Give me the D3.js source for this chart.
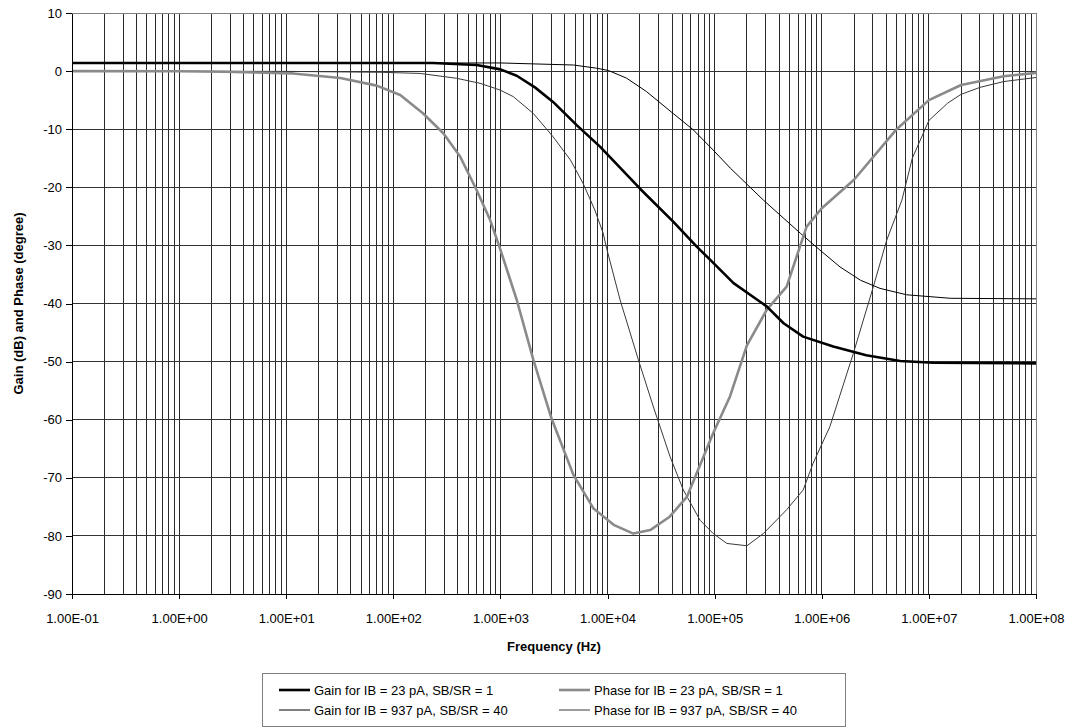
<!DOCTYPE html>
<html>
<head>
<meta charset="utf-8">
<script src="https://cdn.jsdelivr.net/npm/d3@7/dist/d3.min.js"></script>
<style>
  html, body { margin: 0; padding: 0; background: #fff; }
  svg { display: block; font-family: "Liberation Sans", Arial, sans-serif; }
</style>
</head>
<body>
<svg id="chart" width="1079" height="728"></svg>
<script>
// Gain for IB = 23 pA, SB/SR = 1
const gain23Freq = [0.1, 1, 10, 100, 235, 600, 1000, 1420, 2100, 3100, 5150, 8500, 2.0e4, 4.1e4, 6.8e4, 9.1e4, 1.5e5, 3.06e5, 4.4e5, 6.7e5, 1.28e6, 2.6e6, 5.4e6, 1.1e7, 1e8];
const gain23 = [1.4, 1.4, 1.4, 1.4, 1.4, 1.05, 0.3, -0.8, -2.8, -5.3, -9.3, -13.0, -20.2, -25.9, -30.2, -32.5, -36.5, -40.5, -43.4, -45.7, -47.4, -48.9, -49.9, -50.2, -50.3];

// Gain for IB = 937 pA, SB/SR = 40
const gain937Freq = [0.1, 1000, 4800, 7900, 1.02e4, 1.5e4, 2.3e4, 4.1e4, 6.3e4, 9.7e4, 1.4e5, 2.85e5, 6.3e5, 9.6e5, 1.48e6, 2.3e6, 3.5e6, 6.2e6, 1.58e7, 1e8];
const gain937 = [1.4, 1.4, 1.05, 0.5, 0.1, -1.2, -3.5, -7.3, -10.1, -13.6, -16.7, -22.2, -27.9, -30.8, -33.7, -36.0, -37.4, -38.5, -39.1, -39.2];

// Phase for IB = 23 pA, SB/SR = 1
const phase23Freq = [0.1, 1, 2.6, 11.6, 32, 70, 116, 190, 293, 420, 600, 800, 990, 1420, 2030, 3000, 4800, 7400, 1.14e4, 1.74e4, 2.5e4, 3.8e4, 5.5e4, 9.7e4, 1.39e5, 2.0e5, 3.06e5, 4.7e5, 7.2e5, 1.0e6, 2e6, 5e6, 1e7, 2e7, 5e7, 1e8];
const phase23 = [0, -0.03, -0.1, -0.4, -1.2, -2.5, -4.1, -7.3, -10.7, -14.7, -20.5, -25.6, -30.5, -39.4, -49.7, -59.8, -69.5, -75.3, -78.1, -79.6, -79.0, -76.7, -73.3, -62.3, -56.0, -47.2, -41.1, -37.1, -26.8, -23.6, -18.7, -10.0, -5.0, -2.4, -0.9, -0.3];

// Phase for IB = 937 pA, SB/SR = 40
const phase937Freq = [0.1, 10, 75, 178, 390, 645, 990, 1320, 2030, 3100, 4500, 5900, 7600, 9100, 9800, 1.31e4, 1.94e4, 2.68e4, 3.84e4, 5.1e4, 7.3e4, 9.7e4, 1.3e5, 2.0e5, 2.85e5, 4.7e5, 6.7e5, 8.3e5, 1.19e6, 1.97e6, 3.03e6, 4.04e6, 5.6e6, 7e6, 1e7, 1.5e7, 2e7, 3e7, 5e7, 1e8];
const phase937 = [0, -0.05, -0.2, -0.4, -1.24, -2.1, -3.25, -4.4, -7.3, -11.3, -15.3, -19.3, -23.9, -27.9, -30.5, -39.4, -49.7, -57.8, -66.4, -72.1, -77.3, -79.6, -81.3, -81.7, -79.6, -75.5, -72.1, -67.5, -61.2, -48.6, -37.1, -29.1, -22.2, -15.0, -8.5, -5.5, -4.0, -2.8, -1.8, -1.1];

const seriesNames = [
  "Gain for IB = 23 pA, SB/SR = 1",
  "Phase for IB = 23 pA, SB/SR = 1",
  "Gain for IB = 937 pA, SB/SR = 40",
  "Phase for IB = 937 pA, SB/SR = 40"
];

const yTicks = [-90, -80, -70, -60, -50, -40, -30, -20, -10, 0, 10];
const xDecades = [-1, 0, 1, 2, 3, 4, 5, 6, 7, 8];

const xTitle = "Frequency (Hz)";
const yTitle = "Gain (dB) and Phase (degree)";

// ---- layout ----
const svg = d3.select("#chart");
const plot = { left: 72, right: 1036, top: 13, bottom: 594 };

const x = d3.scaleLog().domain([1e-1, 1e8]).range([plot.left, plot.right]);
const y = d3.scaleLinear().domain([-90, 10]).range([plot.bottom, plot.top]);

// gridlines: every decade plus 2..9 within each decade
const vLines = [];
xDecades.forEach(d => {
  if (d < 8) for (let k = 1; k <= 9; k++) vLines.push(k * Math.pow(10, d));
  else vLines.push(Math.pow(10, d));
});

const grid = svg.append("g").attr("shape-rendering", "crispEdges");
grid.selectAll("line.v").data(vLines).join("line")
  .attr("class", "v")
  .attr("x1", d => x(d)).attr("x2", d => x(d))
  .attr("y1", plot.top).attr("y2", plot.bottom)
  .attr("stroke", "#2a2a2a").attr("stroke-width", 1);
grid.selectAll("line.h").data(yTicks).join("line")
  .attr("class", "h")
  .attr("x1", plot.left).attr("x2", plot.right)
  .attr("y1", d => y(d)).attr("y2", d => y(d))
  .attr("stroke", "#333").attr("stroke-width", 1);

// curves
const defs = svg.append("defs");
defs.append("clipPath").attr("id", "plotClip").append("rect")
  .attr("x", plot.left).attr("y", plot.top - 2)
  .attr("width", plot.right - plot.left).attr("height", plot.bottom - plot.top + 4);

const lineGen = d3.line().x(d => x(d[0])).y(d => y(d[1]));
const series = [
  { f: phase937Freq, v: phase937, color: "#3a3a3a", width: 1 },
  { f: gain937Freq, v: gain937, color: "#000", width: 1 },
  { f: phase23Freq, v: phase23, color: "#8a8a8a", width: 2.6 },
  { f: gain23Freq, v: gain23, color: "#000", width: 2.6 }
];
const curves = svg.append("g").attr("clip-path", "url(#plotClip)");
series.forEach(s => {
  curves.append("path")
    .datum(s.f.map((f, i) => [f, s.v[i]]))
    .attr("d", lineGen)
    .attr("fill", "none")
    .attr("stroke", s.color)
    .attr("stroke-width", s.width)
    .attr("stroke-linejoin", "round");
});

// plot frame
svg.append("rect")
  .attr("x", plot.left).attr("y", plot.top)
  .attr("width", plot.right - plot.left).attr("height", plot.bottom - plot.top)
  .attr("fill", "none").attr("stroke", "#808080").attr("stroke-width", 1)
  .attr("shape-rendering", "crispEdges");

// axes
const fmtSci = v => {
  const e = Math.round(Math.log10(v));
  const sign = e < 0 ? "-" : "+";
  return "1.00E" + sign + String(Math.abs(e)).padStart(2, "0");
};

const xAxis = d3.axisBottom(x)
  .tickValues(xDecades.map(d => Math.pow(10, d)))
  .tickFormat(fmtSci)
  .tickSizeInner(5).tickSizeOuter(0).tickPadding(15);
const gx = svg.append("g").attr("transform", `translate(0,${plot.bottom})`).call(xAxis);

const yAxis = d3.axisLeft(y)
  .tickValues(yTicks)
  .tickFormat(d => String(d))
  .tickSizeInner(6).tickSizeOuter(0).tickPadding(4);
const gy = svg.append("g").attr("transform", `translate(${plot.left},0)`).call(yAxis);

[gx, gy].forEach(g => {
  g.attr("shape-rendering", "crispEdges");
  g.select(".domain").attr("stroke", "#000");
  g.selectAll(".tick line").attr("stroke", "#000");
  g.selectAll(".tick text")
    .attr("fill", "#000")
    .style("font-family", "'Liberation Sans', Arial, sans-serif")
    .style("font-size", "13px");
});

// axis titles
svg.append("text")
  .attr("x", (plot.left + plot.right) / 2).attr("y", 651)
  .attr("text-anchor", "middle")
  .style("font-size", "13px").style("font-weight", "bold")
  .text(xTitle);

svg.append("text")
  .attr("transform", `translate(23,${(plot.top + plot.bottom) / 2}) rotate(-90)`)
  .attr("text-anchor", "middle")
  .style("font-size", "13px").style("font-weight", "bold")
  .text(yTitle);

// legend
const legend = svg.append("g");
legend.append("rect")
  .attr("x", 262.5).attr("y", 673.5).attr("width", 583).attr("height", 53)
  .attr("fill", "#fff").attr("stroke", "#808080").attr("stroke-width", 1);

const legendItems = [
  { name: seriesNames[0], s: series[3], col: 0, row: 0 },
  { name: seriesNames[1], s: series[2], col: 1, row: 0 },
  { name: seriesNames[2], s: series[1], col: 0, row: 1 },
  { name: seriesNames[3], s: series[0], col: 1, row: 1 }
];
const colX = [279, 559];
const rowY = [690, 710];
legendItems.forEach(it => {
  const lx = colX[it.col], ly = rowY[it.row];
  legend.append("line")
    .attr("x1", lx).attr("x2", lx + 31)
    .attr("y1", ly).attr("y2", ly)
    .attr("stroke", it.s.color).attr("stroke-width", it.s.width);
  legend.append("text")
    .attr("x", lx + 35).attr("y", ly + 4.5)
    .style("font-size", "13px")
    .text(it.name);
});
</script>
</body>
</html>
